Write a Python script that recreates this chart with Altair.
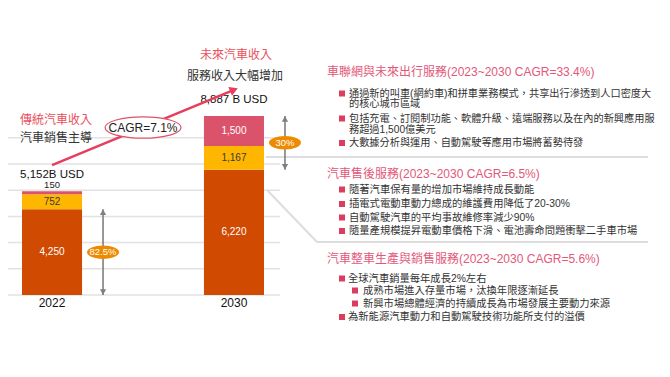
import altair as alt
import pandas as pd

# ---------------- data ----------------
years = ["2022", "2030"]
segments = ["汽車整車生產與銷售服務", "汽車售後服務", "車聯網與未來出行服務"]
seg_colors = ["#D04A02", "#FFB600", "#DB536A"]
sales = [4250, 6220]
aftersales = [752, 1167]
connected = [150, 1500]
totals = [5152, 8887]
total_labels = ["5,152B USD", "8,887 B USD"]
share_lo = [0, 6220]
share_hi = [4250, 8887]
share_labels = ["82.5%", "30%"]
cagr_label = "CAGR=7.1%"
grid_values = [0, 1300, 2600, 3900, 5200, 6500, 7800]

left_title = ["傳統汽車收入", "汽車銷售主導"]
right_title = ["未來汽車收入", "服務收入大幅增加"]

panel_titles = [
    "車聯網與未來出行服務(2023~2030 CAGR=33.4%)",
    "汽車售後服務(2023~2030 CAGR=6.5%)",
    "汽車整車生產與銷售服務(2023~2030 CAGR=5.6%)",
]
panel1_items = [
    ["通過新的叫車(網約車)和拼車業務模式，共享出行滲透到人口密度大", "的核心城市區域"],
    ["包括充電、訂閱制功能、軟體升級、遠端服務以及在內的新興應用服", "務超過1,500億美元"],
    ["大數據分析與運用、自動駕駛等應用市場將蓄勢待發"],
]
panel2_items = [
    "隨著汽車保有量的增加市場維持成長動能",
    "插電式電動車動力總成的維護費用降低了20-30%",
    "自動駕駛汽車的平均事故維修率減少90%",
    "隨量產規模提昇電動車價格下滑、電池壽命問題衝擊二手車市場",
]
panel3_items = [
    "全球汽車銷量每年成長2%左右",
    "成熟市場進入存量市場，汰換年限逐漸延長",
    "新興市場總體經濟的持續成長為市場發展主要動力來源",
    "為新能源汽車動力和自動駕駛技術功能所支付的溢價",
]
panel3_levels = [0, 1, 1, 0]

# ---------------- tables ----------------
rows = []
for i, y in enumerate(years):
    for k, (seg, vals) in enumerate(zip(segments, [sales, aftersales, connected])):
        rows.append({"year": y, "segment": seg, "value": vals[i], "order": k})
bar_df = pd.DataFrame(rows)
tot_df = pd.DataFrame({"year": years, "total": totals, "label": total_labels})
share_df = pd.DataFrame({"year": years, "lo": share_lo, "hi": share_hi, "label": share_labels})
grid_df = pd.DataFrame({"g": grid_values})
cagr_df = pd.DataFrame({"year": [years[0]], "total": [(totals[0] + totals[1]) / 2], "label": [cagr_label]})
one = pd.DataFrame({"k": [0]})

FONT = 'Liberation Sans, "Noto Sans CJK TC", sans-serif'
RED = "#E9505A"
PINK = "#E2587A"
BULLET = "#DA3D5E"
DARK = "#333333"
GRAY = "#7F7F7F"
OFF = 8  # page margin

x_scale = alt.Scale(domain=years, range=[0, 270], paddingInner=0.67, paddingOuter=0.077)
y_scale = alt.Scale(domain=[0, 14240], range=[287, 0], nice=False, zero=True)
X = alt.X("year:N", scale=x_scale, axis=None)

ELLIPSE = "M -1 0 A 1 0.42 0 1 0 1 0 A 1 0.42 0 1 0 -1 0 Z"
ELLIPSE_WIDE = "M -1 0 A 1 0.28 0 1 0 1 0 A 1 0.28 0 1 0 -1 0 Z"

layers = []

# gridlines
layers.append(
    alt.Chart(grid_df).mark_rule(color="#E2E2E2", strokeWidth=1.5).encode(
        y=alt.Y("g:Q", scale=y_scale, axis=None), x=alt.value(-1), x2=alt.value(272)
    )
)

# decorative connector lines to the right panels
def seg(x1, y1, x2, y2):
    return alt.Chart(one).mark_rule(color="#DDDDDD", strokeWidth=2).encode(
        x=alt.value(x1 - OFF), y=alt.value(y1 - OFF), x2=alt.value(x2 - OFF), y2=alt.value(y2 - OFF)
    )

layers += [seg(266, 157, 648, 157), seg(267, 190, 317, 242), seg(317, 242, 648, 242)]

# bars
layers.append(
    alt.Chart(bar_df).mark_bar().encode(
        x=X,
        y=alt.Y("value:Q", scale=y_scale, axis=None, stack="zero"),
        color=alt.Color("segment:N", scale=alt.Scale(domain=segments, range=seg_colors), legend=None),
        order=alt.Order("order:Q", sort="ascending"),
    )
)

stacked = alt.Chart(bar_df).transform_stack(
    stack="value", groupby=["year"], as_=["v0", "v1"], sort=[alt.SortField("order", order="ascending")]
).transform_calculate(mid="(datum.v0 + datum.v1) / 2")

for seg_name, col in [(segments[0], "white"), (segments[1], "#3a3a3a"), (segments[2], "white")]:
    layers.append(
        stacked.transform_filter(
            (alt.datum.segment == seg_name) & (alt.datum.value >= 500)
        ).mark_text(fontSize=10, font=FONT, color=col).encode(
            x=X, y=alt.Y("mid:Q", scale=y_scale, axis=None), text=alt.Text("value:Q", format=",")
        )
    )
# small segment label above bar
layers.append(
    stacked.transform_filter(alt.datum.value < 500).mark_text(
        fontSize=9.5, font=FONT, color="#222", baseline="bottom", dy=-1
    ).encode(x=X, y=alt.Y("v1:Q", scale=y_scale, axis=None), text=alt.Text("value:Q", format=","))
)

# totals
layers.append(
    alt.Chart(tot_df).mark_text(fontSize=11.5, font=FONT, color="#111", baseline="bottom", dy=-11).encode(
        x=X, y=alt.Y("total:Q", scale=y_scale, axis=None), text="label:N"
    )
)

# year labels
layers.append(
    alt.Chart(tot_df).mark_text(fontSize=12, font=FONT, color="#111", baseline="top", dy=3).encode(
        x=X, y=alt.YDatum(0, scale=y_scale, axis=None), text="year:N"
    )
)

# share arrows
share = alt.Chart(share_df).transform_calculate(mid="(datum.lo + datum.hi) / 2")
layers.append(
    share.mark_rule(color=GRAY, strokeWidth=1.6, xOffset=51).encode(
        x=X, y=alt.Y("lo:Q", scale=y_scale, axis=None), y2="hi:Q"
    )
)
layers.append(
    share.mark_point(shape="triangle-up", filled=True, size=40, color=GRAY, opacity=1, xOffset=51, yOffset=3).encode(
        x=X, y=alt.Y("hi:Q", scale=y_scale, axis=None)
    )
)
layers.append(
    share.mark_point(shape="triangle-down", filled=True, size=40, color=GRAY, opacity=1, xOffset=51, yOffset=-3).encode(
        x=X, y=alt.Y("lo:Q", scale=y_scale, axis=None)
    )
)
layers.append(
    share.mark_point(shape=ELLIPSE, filled=True, size=32 * 32, color="#EE8A00", opacity=1, xOffset=51).encode(
        x=X, y=alt.Y("mid:Q", scale=y_scale, axis=None)
    )
)
layers.append(
    share.mark_text(fontSize=9.5, font=FONT, color="white", dx=51).encode(
        x=X, y=alt.Y("mid:Q", scale=y_scale, axis=None), text="label:N"
    )
)

# CAGR arrow
layers.append(
    alt.Chart(tot_df).mark_line(color="#E63E5C", strokeWidth=2.5, yOffset=-26).encode(
        x=X, y=alt.Y("total:Q", scale=y_scale, axis=None)
    )
)
layers.append(
    alt.Chart(tot_df).transform_filter(alt.datum.year == years[-1]).mark_point(
        shape="triangle-up", angle=67.5, filled=True, size=90, color="#E63E5C", opacity=1, yOffset=-26
    ).encode(x=X, y=alt.Y("total:Q", scale=y_scale, axis=None))
)
layers.append(
    alt.Chart(cagr_df).mark_point(
        shape=ELLIPSE_WIDE, size=76 * 76, fill="white", stroke="#E0506A", strokeWidth=1.2,
        opacity=1, fillOpacity=1, xOffset=91, yOffset=-26
    ).encode(x=X, y=alt.Y("total:Q", scale=y_scale, axis=None))
)
layers.append(
    alt.Chart(cagr_df).mark_text(fontSize=12, font=FONT, color="#222", dx=91, dy=-26).encode(
        x=X, y=alt.Y("total:Q", scale=y_scale, axis=None), text="label:N"
    )
)

# free text helpers (page coordinates)
def txt(s, px, py, size, color, align="left"):
    return alt.Chart(one).mark_text(
        text=s, align=align, baseline="middle", fontSize=size, color=color, font=FONT
    ).encode(x=alt.value(px - OFF), y=alt.value(py - OFF))

def sq(px, py):
    return alt.Chart(one).mark_square(size=36, color=BULLET, filled=True, opacity=1).encode(
        x=alt.value(px - OFF), y=alt.value(py - OFF)
    )

layers += [
    txt(left_title[0], 20, 120, 12, RED),
    txt(left_title[1], 20, 138, 12, DARK),
    txt(right_title[0], 200, 55, 12, RED),
    txt(right_title[1], 187, 76, 12, DARK),
]

# panel titles
for t, py in zip(panel_titles, [72, 174, 259]):
    layers.append(txt(t, 327, py, 12, PINK))

# panel 1
p1_y = [[93.5, 104], [118.5, 129.5], [143]]
for item, ys in zip(panel1_items, p1_y):
    layers.append(sq(342, ys[0]))
    for line, py in zip(item, ys):
        layers.append(txt(line, 349, py, 10.2, DARK))

# panel 2
for line, py in zip(panel2_items, [189.5, 204, 217.5, 231]):
    layers.append(sq(342, py))
    layers.append(txt(line, 349, py, 10.3, DARK))

# panel 3
for line, lvl, py in zip(panel3_items, panel3_levels, [278.5, 290.5, 303.5, 317]):
    bx = 342 if lvl == 0 else 355
    tx = 348 if lvl == 0 else 363
    layers.append(sq(bx, py))
    layers.append(txt(line, tx, py, 10.3, DARK))

chart = alt.layer(*layers).properties(
    width=654, height=361, autosize=alt.AutoSizeParams(type="none"), padding=0
).configure_view(stroke=None)

chart.save("out.html", embed_options={"renderer": "svg", "actions": False})
